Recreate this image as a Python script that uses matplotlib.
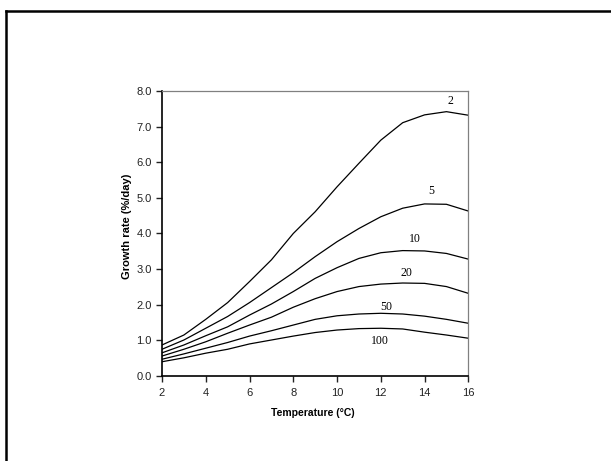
import matplotlib
matplotlib.use("Agg")
import matplotlib.pyplot as plt
from matplotlib.lines import Line2D
from matplotlib.ticker import FormatStrFormatter

# Temperature (°C)
temperatura = [2, 3, 4, 5, 6, 7, 8, 9, 10, 11, 12, 13, 14, 15, 16]

# Growth rate (%/day) for each body size
crecimiento_2 = [0.87, 1.15, 1.59, 2.06, 2.65, 3.26, 4.00, 4.61, 5.31, 5.97, 6.62, 7.11, 7.33, 7.42, 7.32]
crecimiento_5 = [0.75, 1.01, 1.34, 1.67, 2.06, 2.48, 2.90, 3.35, 3.77, 4.14, 4.47, 4.71, 4.83, 4.82, 4.63]
crecimiento_10 = [0.65, 0.87, 1.13, 1.38, 1.71, 2.02, 2.37, 2.74, 3.04, 3.30, 3.46, 3.52, 3.51, 3.44, 3.28]
crecimiento_20 = [0.56, 0.75, 0.96, 1.20, 1.43, 1.65, 1.93, 2.17, 2.37, 2.51, 2.58, 2.61, 2.60, 2.51, 2.32]
crecimiento_50 = [0.47, 0.62, 0.78, 0.94, 1.12, 1.27, 1.43, 1.59, 1.69, 1.74, 1.76, 1.74, 1.68, 1.59, 1.48]
crecimiento_100 = [0.40, 0.51, 0.64, 0.75, 0.90, 1.01, 1.12, 1.22, 1.29, 1.33, 1.34, 1.32, 1.23, 1.15, 1.06]

series = [crecimiento_2, crecimiento_5, crecimiento_10, crecimiento_20, crecimiento_50, crecimiento_100]
etiquetas = ["2", "5", "10", "20", "50", "100"]
# label anchor points (x, y) in data units
pos_etiquetas = [(15.17, 7.73), (14.3, 5.19), (13.57, 3.84), (13.15, 2.88), (12.23, 1.93), (11.94, 0.98)]

fig = plt.figure(figsize=(6.11, 4.61), dpi=100)
ax = fig.add_axes([0.2651, 0.1844, 0.5014, 0.6182])

for valores in series:
    ax.plot(temperatura, valores, color="black", linewidth=0.9)

for texto, (px, py) in zip(etiquetas, pos_etiquetas):
    ax.text(px, py, texto, ha="center", va="center", fontsize=8.5,
            family="Liberation Serif", color="black")

ax.set_xlim(2, 16)
ax.set_ylim(0, 8)
ax.set_xticks(range(2, 17, 2))
ax.set_yticks([0, 1, 2, 3, 4, 5, 6, 7, 8])
ax.yaxis.set_major_formatter(FormatStrFormatter("%.1f"))

for lado in ["top", "right"]:
    ax.spines[lado].set_color("#808080")
    ax.spines[lado].set_linewidth(0.9)
for lado in ["left", "bottom"]:
    ax.spines[lado].set_color("black")
    ax.spines[lado].set_linewidth(1.2)

ax.tick_params(direction="out", length=4.5, width=1.0, labelsize=8,
               colors="#222222", pad=3)
ax.tick_params(axis="x", pad=4)
for etiqueta in ax.get_xticklabels() + ax.get_yticklabels():
    etiqueta.set_family("Liberation Sans")

ax.set_xlabel("Temperature (°C)", fontsize=7.5, fontweight="bold",
              family="Liberation Sans")
ax.set_ylabel("Growth rate (%/day)", fontsize=8, fontweight="bold",
              family="Liberation Sans")
ax.xaxis.set_label_coords(0.493, -0.112)
ax.yaxis.set_label_coords(-0.097, 0.525)

# slide frame: only top and left edges are visible
fig.add_artist(Line2D([6 / 611, 6 / 611], [0, 1 - 11 / 461], color="black",
                      linewidth=1.8, transform=fig.transFigure))
fig.add_artist(Line2D([6 / 611, 1], [1 - 11 / 461, 1 - 11 / 461], color="black",
                      linewidth=1.8, transform=fig.transFigure))

plt.savefig("out.png", dpi=100)
plt.close()
